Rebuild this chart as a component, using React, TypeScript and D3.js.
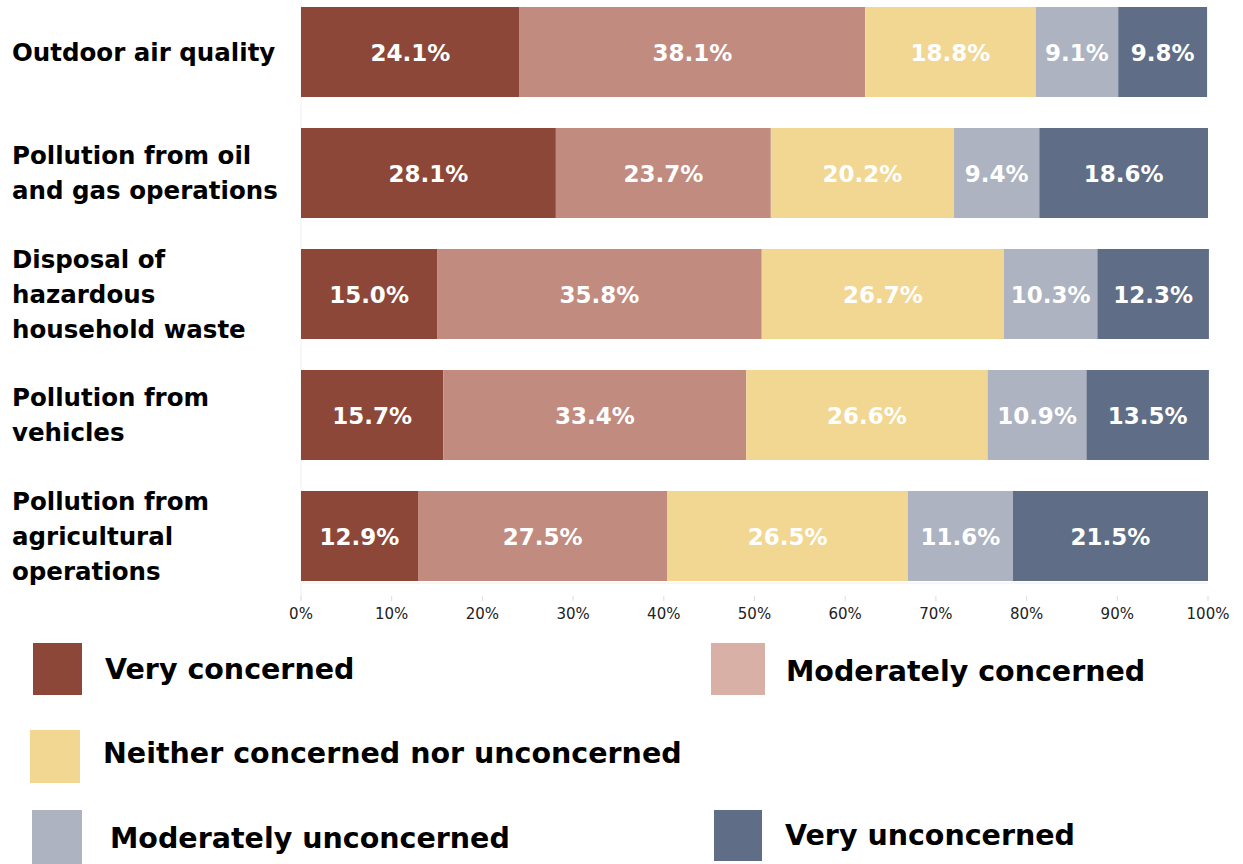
import React from "react";
import * as d3 from "d3";

const categories: string[][] = [
  ["Outdoor air quality"],
  ["Pollution from oil", "and gas operations"],
  ["Disposal of", "hazardous", "household waste"],
  ["Pollution from", "vehicles"],
  ["Pollution from", "agricultural", "operations"],
];
const seriesNames = [
  "Very concerned",
  "Moderately concerned",
  "Neither concerned nor unconcerned",
  "Moderately unconcerned",
  "Very unconcerned",
];
const veryConcerned = [24.1, 28.1, 15.0, 15.7, 12.9];
const moderatelyConcerned = [38.1, 23.7, 35.8, 33.4, 27.5];
const neither = [18.8, 20.2, 26.7, 26.6, 26.5];
const moderatelyUnconcerned = [9.1, 9.4, 10.3, 10.9, 11.6];
const veryUnconcerned = [9.8, 18.6, 12.3, 13.5, 21.5];
const tickValues = [0, 10, 20, 30, 40, 50, 60, 70, 80, 90, 100];

const barColors = ["#8C4738", "#C18C7F", "#F2D792", "#ADB3C0", "#5F6E86"];
const legendColors = ["#8C4738", "#D8B0A6", "#F2D792", "#ADB3C0", "#5F6E86"];

const FONT = "'DejaVu Sans', sans-serif";

export default function App() {
  const W = 1243, H = 864;
  const left = 301, right = 1208;
  const x = d3.scaleLinear().domain([0, 100]).range([left, right]);
  const y = d3.scaleBand<number>().domain(d3.range(categories.length)).range([7, 581]).paddingInner(31 / 121).paddingOuter(0);
  const series = [veryConcerned, moderatelyConcerned, neither, moderatelyUnconcerned, veryUnconcerned];
  const rows = categories.map((_, i) => {
    const obj: any = { i };
    seriesNames.forEach((n, k) => (obj[n] = series[k][i]));
    return obj;
  });
  const stacked = d3.stack<any>().keys(seriesNames)(rows);
  const bw = y.bandwidth();

  const legend = [
    { k: 0, sx: 33, sy: 643, sw: 49, sh: 52, tx: 105, ty: 669 },
    { k: 1, sx: 711, sy: 643, sw: 54, sh: 52, tx: 786, ty: 671 },
    { k: 2, sx: 30, sy: 730, sw: 50, sh: 53, tx: 103, ty: 753 },
    { k: 3, sx: 32, sy: 810, sw: 50, sh: 54, tx: 110, ty: 838 },
    { k: 4, sx: 714, sy: 810, sw: 48, sh: 51, tx: 785, ty: 835 },
  ];

  return (
    <svg width={W} height={H} style={{ position: "absolute", left: 0, top: 0, background: "#fff" }}>
      <line x1={left} x2={left} y1={0} y2={600} stroke="#eeeeee" />
      <line x1={left} x2={right} y1={583} y2={583} stroke="#eeeeee" />
      {tickValues.map((t) => (
        <g key={t}>
          <line x1={x(t)} x2={x(t)} y1={596} y2={601} stroke="#dddddd" />
          <text x={x(t)} y={614} textAnchor="middle" dominantBaseline="central" fontFamily={FONT} fontSize={15} fill="#222">
            {t}%
          </text>
        </g>
      ))}
      {stacked.map((s, k) => (
        <g key={k}>
          {s.map((d, i) => {
            const x0 = x(d[0]), x1 = x(d[1]);
            const yy = y(i)!;
            return (
              <g key={i}>
                <rect x={x0} y={yy} width={x1 - x0} height={bw} fill={barColors[k]} />
                <text x={(x0 + x1) / 2} y={yy + bw / 2 + 1} textAnchor="middle" dominantBaseline="central" fontFamily={FONT} fontWeight="bold" fontSize={23} fill="#fff">
                  {series[k][i].toFixed(1)}%
                </text>
              </g>
            );
          })}
        </g>
      ))}
      {categories.map((lines, i) => {
        const cy = y(i)! + bw / 2;
        const lh = 35;
        return (
          <text key={i} fontFamily={FONT} fontWeight="bold" fontSize={24.5} fill="#000">
            {lines.map((l, j) => (
              <tspan key={j} x={12} y={cy + (j - (lines.length - 1) / 2) * lh} dominantBaseline="central">
                {l}
              </tspan>
            ))}
          </text>
        );
      })}
      {legend.map((l) => (
        <g key={l.k}>
          <rect x={l.sx} y={l.sy} width={l.sw} height={l.sh} fill={legendColors[l.k]} />
          <text x={l.tx} y={l.ty} dominantBaseline="central" fontFamily={FONT} fontWeight="bold" fontSize={28.5} fill="#000">
            {seriesNames[l.k]}
          </text>
        </g>
      ))}
    </svg>
  );
}
